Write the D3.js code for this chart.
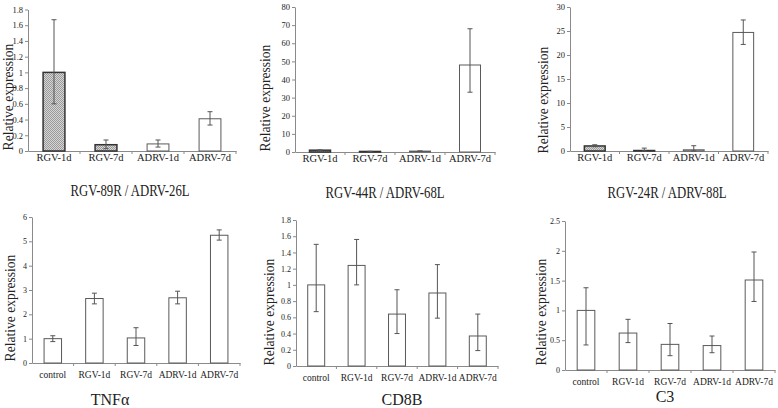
<!DOCTYPE html>
<html>
<head>
<meta charset="utf-8">
<script src="https://cdn.jsdelivr.net/npm/d3@7"></script>
<style>
  body { margin: 0; background: #fff; }
</style>
</head>
<body>
<div class="canvas"></div>
<script>
// Categories
const catsTop = ['RGV-1d', 'RGV-7d', 'ADRV-1d', 'ADRV-7d'];
const catsBottom = ['control', 'RGV-1d', 'RGV-7d', 'ADRV-1d', 'ADRV-7d'];

// RGV-89R / ADRV-26L
const p1Values = [1.0, 0.08, 0.09, 0.41];
const p1Low = [0.6, 0.03, 0.05, 0.33];
const p1High = [1.67, 0.14, 0.14, 0.5];
const p1Ticks = [0, 0.2, 0.4, 0.6, 0.8, 1, 1.2, 1.4, 1.6, 1.8];

// RGV-44R / ADRV-68L
const p2Values = [1.0, 0.3, 0.5, 48];
const p2Low = [0.8, 0.2, 0.4, 33];
const p2High = [1.2, 0.4, 0.6, 68];
const p2Ticks = [0, 10, 20, 30, 40, 50, 60, 70, 80];

// RGV-24R / ADRV-88L
const p3Values = [1.05, 0.1, 0.25, 24.7];
const p3Low = [0.9, 0, 0, 22.2];
const p3High = [1.3, 0.6, 1.1, 27.3];
const p3Ticks = [0, 5, 10, 15, 20, 25, 30];

// TNFα
const p4Values = [1.0, 2.65, 1.03, 2.68, 5.25];
const p4Low = [0.88, 2.43, 0.72, 2.43, 5.05];
const p4High = [1.12, 2.87, 1.45, 2.95, 5.47];
const p4Ticks = [0, 1, 2, 3, 4, 5, 6];

// CD8B
const p5Values = [1.0, 1.24, 0.64, 0.9, 0.37];
const p5Low = [0.67, 1.0, 0.4, 0.59, 0.19];
const p5High = [1.5, 1.56, 0.94, 1.25, 0.64];
const p5Ticks = [0, 0.2, 0.4, 0.6, 0.8, 1, 1.2, 1.4, 1.6, 1.8];

// C3
const p6Values = [1.0, 0.62, 0.43, 0.41, 1.51];
const p6Low = [0.42, 0.46, 0.24, 0.29, 1.15];
const p6High = [1.38, 0.85, 0.78, 0.57, 1.98];
const p6Ticks = [0, 0.5, 1, 1.5, 2, 2.5];

const titles = ['RGV-89R / ADRV-26L', 'RGV-44R / ADRV-68L', 'RGV-24R / ADRV-88L', 'TNF\u03b1', 'CD8B', 'C3'];

// Panel layout (pixel positions of each plot)
const panels = [
    { cats: catsTop, values: p1Values, low: p1Low, high: p1High, ticks: p1Ticks, title: titles[0],
      x: [28, 236], y: [151, 9.5], label: [8, 97], titlePos: [130, 190], top: true },
    { cats: catsTop, values: p2Values, low: p2Low, high: p2High, ticks: p2Ticks, title: titles[1],
      x: [295, 495], y: [152, 7], label: [265, 98], titlePos: [385, 192], top: true },
    { cats: catsTop, values: p3Values, low: p3Low, high: p3High, ticks: p3Ticks, title: titles[2],
      x: [570, 768], y: [151, 7], label: [543, 100], titlePos: [667, 192], top: true },
    { cats: catsBottom, values: p4Values, low: p4Low, high: p4High, ticks: p4Ticks, title: titles[3],
      x: [32, 240], y: [363, 217], label: [10, 308], titlePos: [110, 399], top: false },
    { cats: catsBottom, values: p5Values, low: p5Low, high: p5High, ticks: p5Ticks, title: titles[4],
      x: [296, 498], y: [366, 220], label: [269, 312], titlePos: [402, 399], top: false },
    { cats: catsBottom, values: p6Values, low: p6Low, high: p6High, ticks: p6Ticks, title: titles[5],
      x: [565, 775], y: [370, 221], label: [541, 312], titlePos: [665, 396], top: false }
];

const serif = '"Times New Roman", Tinos, "Liberation Serif", "DejaVu Serif", serif';

const svg = d3.select('.canvas')
    .append('svg')
        .attr('width', 778)
        .attr('height', 408);

// Hatch pattern for the RGV bars in the top row
const pat = svg.append('defs').append('pattern')
    .attr('id', 'hatch')
    .attr('patternUnits', 'userSpaceOnUse')
    .attr('width', 2)
    .attr('height', 2);
pat.append('rect').attr('width', 2).attr('height', 2).attr('fill', '#d6d6d6');
pat.append('rect').attr('width', 1).attr('height', 1).attr('fill', '#9a9a9a');
pat.append('rect').attr('x', 1).attr('y', 1).attr('width', 1).attr('height', 1).attr('fill', '#9a9a9a');

const axisColor = '#8a8a8a';

panels.forEach(p => {
    const g = svg.append('g');

    const x = d3.scaleBand()
        .domain(p.cats)
        .range(p.x)
        .paddingInner(0.58)
        .paddingOuter(0.29);
    const y = d3.scaleLinear()
        .domain([0, d3.max(p.ticks)])
        .range(p.y);

    // y axis
    const yAxis = d3.axisLeft(y)
        .tickValues(p.ticks)
        .tickFormat(d => d)
        .tickSize(3)
        .tickSizeOuter(0)
        .tickPadding(2);
    const yg = g.append('g')
        .attr('transform', `translate(${p.x[0]}, 0)`)
        .call(yAxis);
    yg.selectAll('path, line').attr('stroke', axisColor);
    yg.selectAll('text')
        .style('font-family', serif)
        .attr('fill', '#222')
        .attr('font-size', p.top ? 8.5 : 8);

    // x axis (labels only; ticks go between categories)
    const xAxis = d3.axisBottom(x)
        .tickSize(0)
        .tickSizeOuter(0)
        .tickPadding(p.top ? 3 : 8);
    const xg = g.append('g')
        .attr('transform', `translate(0, ${p.y[0]})`)
        .call(xAxis);
    xg.select('.domain').attr('stroke', axisColor);
    xg.selectAll('text')
        .style('font-family', serif)
        .attr('fill', '#222')
        .attr('font-size', p.top ? 10.5 : 9.5);

    const bounds = d3.range(p.cats.length + 1).map(i => p.x[0] + i * x.step());
    g.selectAll('.xtick')
        .data(bounds.slice(1))
        .enter().append('line')
        .attr('x1', d => d).attr('x2', d => d)
        .attr('y1', p.y[0]).attr('y2', p.y[0] + 3)
        .attr('stroke', axisColor);

    // bars
    const hatched = i => p.top && p.cats[i].startsWith('RGV');
    g.selectAll('.bar')
        .data(p.values)
        .enter().append('rect')
        .attr('x', (d, i) => x(p.cats[i]))
        .attr('width', x.bandwidth())
        .attr('y', d => y(d))
        .attr('height', d => y(0) - y(d))
        .attr('fill', (d, i) => hatched(i) ? 'url(#hatch)' : '#fff')
        .attr('stroke', (d, i) => hatched(i) ? '#333' : '#5a5a5a')
        .attr('stroke-width', (d, i) => hatched(i) ? 1.5 : 1);

    // error bars
    const cx = i => x(p.cats[i]) + x.bandwidth() / 2;
    const err = g.selectAll('.err')
        .data(p.values)
        .enter().append('g')
        .attr('stroke', '#555')
        .attr('stroke-width', 1);
    err.append('line')
        .attr('x1', (d, i) => cx(i)).attr('x2', (d, i) => cx(i))
        .attr('y1', (d, i) => y(p.low[i])).attr('y2', (d, i) => y(p.high[i]));
    err.append('line')
        .attr('x1', (d, i) => cx(i) - 2.5).attr('x2', (d, i) => cx(i) + 2.5)
        .attr('y1', (d, i) => y(p.high[i])).attr('y2', (d, i) => y(p.high[i]));
    err.append('line')
        .attr('x1', (d, i) => cx(i) - 2.5).attr('x2', (d, i) => cx(i) + 2.5)
        .attr('y1', (d, i) => y(p.low[i])).attr('y2', (d, i) => y(p.low[i]));

    // y label
    g.append('text')
        .attr('transform', `translate(${p.label[0]}, ${p.label[1]}) rotate(-90)`)
        .attr('text-anchor', 'middle')
        .attr('dominant-baseline', 'central')
        .attr('font-size', 13.6)
        .attr('fill', '#222')
        .style('font-family', serif)
        .text('Relative expression');

    // title
    g.append('text')
        .attr('transform', p.top
            ? `translate(${p.titlePos[0]}, ${p.titlePos[1]}) scale(0.75, 1)`
            : `translate(${p.titlePos[0]}, ${p.titlePos[1]})`)
        .attr('text-anchor', 'middle')
        .attr('dominant-baseline', 'central')
        .attr('font-size', p.top ? 17 : 16)
        .attr('fill', '#222')
        .style('font-family', serif)
        .text(p.title);
});
</script>
</body>
</html>
